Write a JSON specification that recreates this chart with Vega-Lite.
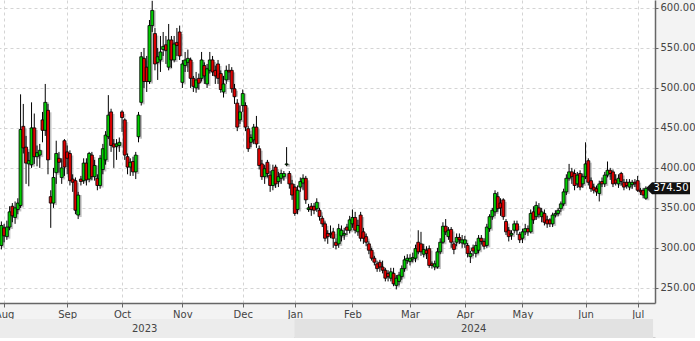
{
"$schema": "https://vega.github.io/schema/vega-lite/v6.json",
"padding": {"left": -6, "top": 0, "right": 0, "bottom": 0},
"background": "#f3f3f3",
"spacing": 0,
"config": {"view": {"stroke": null}, "font": "DejaVu Sans"},
"datasets": {
"ohlc": [
{"i":0,"o":303,"h":333,"l":298,"c":328},{"i":1,"o":325,"h":330,"l":307,"c":315},{"i":2,"o":314,"h":334,"l":310,"c":326},{"i":3,"o":326,"h":352,"l":322,"c":345},{"i":4,"o":352,"h":356,"l":332,"c":340},{"i":5,"o":338,"h":358,"l":330,"c":350},{"i":6,"o":348,"h":362,"l":342,"c":356},{"i":7,"o":353,"h":492,"l":350,"c":448},{"i":8,"o":452,"h":480,"l":418,"c":425},{"i":9,"o":426,"h":440,"l":380,"c":406},
{"i":10,"o":405,"h":420,"l":377,"c":409},{"i":11,"o":404,"h":482,"l":400,"c":450},{"i":12,"o":450,"h":468,"l":405,"c":414},{"i":13,"o":414,"h":428,"l":402,"c":419},{"i":14,"o":416,"h":430,"l":400,"c":422},{"i":15,"o":460,"h":470,"l":432,"c":447},{"i":16,"o":447,"h":505,"l":440,"c":482},{"i":17,"o":472,"h":480,"l":392,"c":410},{"i":18,"o":364,"h":372,"l":325,"c":356},{"i":19,"o":356,"h":400,"l":350,"c":388},
{"i":20,"o":394,"h":434,"l":380,"c":418},{"i":21,"o":412,"h":420,"l":394,"c":407},{"i":22,"o":388,"h":412,"l":380,"c":400},{"i":23,"o":434,"h":436,"l":390,"c":401},{"i":24,"o":420,"h":428,"l":392,"c":412},{"i":25,"o":418,"h":422,"l":378,"c":384},{"i":26,"o":386,"h":392,"l":370,"c":382},{"i":27,"o":384,"h":388,"l":342,"c":347},{"i":28,"o":341,"h":370,"l":336,"c":366},{"i":29,"o":386,"h":390,"l":378,"c":383},
{"i":30,"o":384,"h":412,"l":380,"c":406},{"i":31,"o":406,"h":412,"l":378,"c":385},{"i":32,"o":386,"h":420,"l":382,"c":418},{"i":33,"o":416,"h":420,"l":385,"c":389},{"i":34,"o":389,"h":410,"l":384,"c":403},{"i":35,"o":387,"h":392,"l":372,"c":378},{"i":36,"o":378,"h":416,"l":374,"c":412},{"i":37,"o":398,"h":430,"l":392,"c":424},{"i":38,"o":410,"h":446,"l":404,"c":441},{"i":39,"o":439,"h":491,"l":436,"c":466},
{"i":40,"o":470,"h":474,"l":420,"c":428},{"i":41,"o":430,"h":436,"l":400,"c":426},{"i":42,"o":427,"h":436,"l":410,"c":430},{"i":43,"o":428,"h":438,"l":420,"c":432},{"i":44,"o":470,"h":472,"l":445,"c":463},{"i":45,"o":460,"h":462,"l":410,"c":416},{"i":46,"o":414,"h":418,"l":392,"c":401},{"i":47,"o":401,"h":412,"l":390,"c":407},{"i":48,"o":408,"h":414,"l":390,"c":395},{"i":49,"o":395,"h":420,"l":386,"c":416},
{"i":50,"o":439,"h":470,"l":432,"c":466},{"i":51,"o":482,"h":545,"l":478,"c":539},{"i":52,"o":537,"h":550,"l":500,"c":508},{"i":53,"o":526,"h":540,"l":495,"c":508},{"i":54,"o":508,"h":585,"l":505,"c":578},{"i":55,"o":578,"h":609,"l":570,"c":597},{"i":56,"o":568,"h":575,"l":522,"c":530},{"i":57,"o":532,"h":550,"l":510,"c":539},{"i":58,"o":535,"h":565,"l":520,"c":545},{"i":59,"o":548,"h":570,"l":540,"c":552},
{"i":60,"o":554,"h":565,"l":530,"c":547},{"i":61,"o":526,"h":580,"l":522,"c":560},{"i":62,"o":560,"h":565,"l":525,"c":535},{"i":63,"o":535,"h":565,"l":532,"c":555},{"i":64,"o":557,"h":575,"l":540,"c":553},{"i":65,"o":570,"h":578,"l":535,"c":540},{"i":66,"o":507,"h":535,"l":500,"c":530},{"i":67,"o":528,"h":545,"l":520,"c":535},{"i":68,"o":532,"h":548,"l":520,"c":537},{"i":69,"o":535,"h":538,"l":500,"c":512},
{"i":70,"o":512,"h":515,"l":495,"c":502},{"i":71,"o":500,"h":520,"l":494,"c":510},{"i":72,"o":512,"h":518,"l":498,"c":506},{"i":73,"o":512,"h":545,"l":508,"c":535},{"i":74,"o":528,"h":532,"l":505,"c":515},{"i":75,"o":505,"h":530,"l":500,"c":524},{"i":76,"o":522,"h":545,"l":518,"c":535},{"i":77,"o":535,"h":540,"l":515,"c":520},{"i":78,"o":522,"h":528,"l":505,"c":515},{"i":79,"o":530,"h":535,"l":505,"c":512},
{"i":80,"o":518,"h":522,"l":494,"c":498},{"i":81,"o":495,"h":515,"l":488,"c":505},{"i":82,"o":510,"h":528,"l":505,"c":522},{"i":83,"o":522,"h":530,"l":510,"c":520},{"i":84,"o":522,"h":526,"l":494,"c":499},{"i":85,"o":499,"h":505,"l":480,"c":489},{"i":86,"o":481,"h":486,"l":446,"c":451},{"i":87,"o":460,"h":478,"l":455,"c":470},{"i":88,"o":478,"h":498,"l":470,"c":493},{"i":89,"o":478,"h":482,"l":446,"c":451},
{"i":90,"o":449,"h":452,"l":420,"c":424},{"i":91,"o":432,"h":442,"l":426,"c":438},{"i":92,"o":435,"h":455,"l":430,"c":451},{"i":93,"o":451,"h":465,"l":425,"c":430},{"i":94,"o":424,"h":428,"l":398,"c":403},{"i":95,"o":405,"h":410,"l":385,"c":389},{"i":96,"o":389,"h":404,"l":380,"c":399},{"i":97,"o":407,"h":410,"l":388,"c":393},{"i":98,"o":391,"h":396,"l":370,"c":378},{"i":99,"o":378,"h":404,"l":372,"c":397},
{"i":100,"o":401,"h":404,"l":375,"c":380},{"i":101,"o":383,"h":395,"l":376,"c":389},{"i":102,"o":387,"h":398,"l":380,"c":393},{"i":103,"o":389,"h":396,"l":384,"c":393},{"i":104,"o":404,"h":426,"l":402,"c":405},{"i":105,"o":393,"h":396,"l":374,"c":380},{"i":106,"o":380,"h":385,"l":360,"c":366},{"i":107,"o":376,"h":380,"l":340,"c":343},{"i":108,"o":348,"h":378,"l":342,"c":372},{"i":109,"o":376,"h":388,"l":370,"c":383},
{"i":110,"o":381,"h":392,"l":372,"c":387},{"i":111,"o":387,"h":390,"l":355,"c":360},{"i":112,"o":348,"h":355,"l":345,"c":350},{"i":113,"o":352,"h":356,"l":340,"c":348},{"i":114,"o":352,"h":356,"l":342,"c":347},{"i":115,"o":349,"h":362,"l":345,"c":357},{"i":116,"o":347,"h":350,"l":334,"c":339},{"i":117,"o":337,"h":340,"l":326,"c":330},{"i":118,"o":330,"h":333,"l":308,"c":312},{"i":119,"o":318,"h":322,"l":305,"c":314},
{"i":120,"o":317,"h":328,"l":312,"c":318},{"i":121,"o":320,"h":325,"l":300,"c":312},{"i":122,"o":307,"h":312,"l":298,"c":303},{"i":123,"o":305,"h":330,"l":300,"c":324},{"i":124,"o":315,"h":328,"l":308,"c":322},{"i":125,"o":316,"h":325,"l":310,"c":318},{"i":126,"o":326,"h":330,"l":316,"c":322},{"i":127,"o":322,"h":340,"l":318,"c":335},{"i":128,"o":330,"h":348,"l":325,"c":338},{"i":129,"o":338,"h":345,"l":318,"c":322},
{"i":130,"o":320,"h":335,"l":315,"c":328},{"i":131,"o":341,"h":345,"l":308,"c":312},{"i":132,"o":320,"h":325,"l":305,"c":312},{"i":133,"o":314,"h":318,"l":302,"c":307},{"i":134,"o":305,"h":308,"l":292,"c":297},{"i":135,"o":297,"h":300,"l":284,"c":287},{"i":136,"o":287,"h":290,"l":278,"c":282},{"i":137,"o":280,"h":283,"l":270,"c":274},{"i":138,"o":282,"h":285,"l":270,"c":276},{"i":139,"o":276,"h":284,"l":268,"c":272},
{"i":140,"o":272,"h":275,"l":258,"c":262},{"i":141,"o":268,"h":272,"l":258,"c":264},{"i":142,"o":262,"h":275,"l":258,"c":270},{"i":143,"o":268,"h":275,"l":252,"c":255},{"i":144,"o":253,"h":266,"l":248,"c":262},{"i":145,"o":258,"h":270,"l":253,"c":266},{"i":146,"o":264,"h":278,"l":260,"c":274},{"i":147,"o":274,"h":290,"l":270,"c":285},{"i":148,"o":284,"h":292,"l":280,"c":287},{"i":149,"o":283,"h":292,"l":278,"c":287},
{"i":150,"o":286,"h":294,"l":282,"c":288},{"i":151,"o":287,"h":304,"l":282,"c":299},{"i":152,"o":307,"h":322,"l":292,"c":295},{"i":153,"o":305,"h":320,"l":290,"c":295},{"i":154,"o":292,"h":305,"l":288,"c":298},{"i":155,"o":297,"h":302,"l":286,"c":293},{"i":156,"o":299,"h":303,"l":275,"c":278},{"i":157,"o":280,"h":283,"l":274,"c":278},{"i":158,"o":276,"h":284,"l":272,"c":280},{"i":159,"o":276,"h":300,"l":274,"c":295},
{"i":160,"o":295,"h":312,"l":292,"c":307},{"i":161,"o":307,"h":332,"l":305,"c":327},{"i":162,"o":327,"h":336,"l":316,"c":320},{"i":163,"o":314,"h":326,"l":310,"c":322},{"i":164,"o":323,"h":326,"l":300,"c":307},{"i":165,"o":305,"h":308,"l":292,"c":298},{"i":166,"o":307,"h":318,"l":302,"c":313},{"i":167,"o":313,"h":318,"l":305,"c":310},{"i":168,"o":306,"h":316,"l":300,"c":310},{"i":169,"o":305,"h":315,"l":300,"c":310},
{"i":170,"o":303,"h":306,"l":288,"c":293},{"i":171,"o":289,"h":296,"l":281,"c":293},{"i":172,"o":300,"h":304,"l":290,"c":296},{"i":173,"o":293,"h":308,"l":288,"c":303},{"i":174,"o":297,"h":316,"l":293,"c":312},{"i":175,"o":312,"h":316,"l":304,"c":308},{"i":176,"o":308,"h":312,"l":298,"c":302},{"i":177,"o":303,"h":330,"l":300,"c":326},{"i":178,"o":324,"h":342,"l":320,"c":339},{"i":179,"o":339,"h":350,"l":335,"c":347},
{"i":180,"o":345,"h":372,"l":340,"c":368},{"i":181,"o":364,"h":370,"l":345,"c":349},{"i":182,"o":356,"h":362,"l":340,"c":350},{"i":183,"o":360,"h":362,"l":335,"c":339},{"i":184,"o":333,"h":336,"l":316,"c":320},{"i":185,"o":322,"h":326,"l":308,"c":314},{"i":186,"o":316,"h":322,"l":310,"c":318},{"i":187,"o":322,"h":334,"l":318,"c":330},{"i":188,"o":330,"h":334,"l":316,"c":322},{"i":189,"o":317,"h":320,"l":306,"c":310},
{"i":190,"o":312,"h":324,"l":306,"c":320},{"i":191,"o":320,"h":330,"l":316,"c":324},{"i":192,"o":324,"h":328,"l":315,"c":320},{"i":193,"o":320,"h":348,"l":318,"c":343},{"i":194,"o":345,"h":352,"l":330,"c":335},{"i":195,"o":339,"h":358,"l":335,"c":353},{"i":196,"o":350,"h":356,"l":338,"c":342},{"i":197,"o":339,"h":350,"l":332,"c":345},{"i":198,"o":343,"h":348,"l":328,"c":332},{"i":199,"o":335,"h":340,"l":325,"c":330},
{"i":200,"o":335,"h":337,"l":326,"c":330},{"i":201,"o":330,"h":344,"l":326,"c":341},{"i":202,"o":341,"h":347,"l":338,"c":343},{"i":203,"o":343,"h":350,"l":340,"c":347},{"i":204,"o":349,"h":358,"l":345,"c":355},{"i":205,"o":355,"h":374,"l":352,"c":370},{"i":206,"o":370,"h":392,"l":366,"c":387},{"i":207,"o":387,"h":405,"l":384,"c":395},{"i":208,"o":395,"h":400,"l":380,"c":389},{"i":209,"o":393,"h":398,"l":372,"c":378},
{"i":210,"o":380,"h":395,"l":375,"c":391},{"i":211,"o":393,"h":397,"l":372,"c":376},{"i":212,"o":380,"h":393,"l":375,"c":389},{"i":213,"o":389,"h":432,"l":386,"c":405},{"i":214,"o":409,"h":412,"l":378,"c":382},{"i":215,"o":384,"h":388,"l":370,"c":374},{"i":216,"o":376,"h":380,"l":368,"c":372},{"i":217,"o":374,"h":378,"l":365,"c":370},{"i":218,"o":368,"h":384,"l":358,"c":380},{"i":219,"o":383,"h":388,"l":376,"c":380},
{"i":220,"o":380,"h":395,"l":376,"c":391},{"i":221,"o":391,"h":408,"l":388,"c":397},{"i":222,"o":397,"h":400,"l":385,"c":393},{"i":223,"o":395,"h":398,"l":376,"c":380},{"i":224,"o":385,"h":392,"l":378,"c":381},{"i":225,"o":380,"h":392,"l":375,"c":387},{"i":226,"o":393,"h":395,"l":378,"c":383},{"i":227,"o":382,"h":386,"l":372,"c":376},{"i":228,"o":382,"h":386,"l":374,"c":378},{"i":229,"o":376,"h":386,"l":372,"c":382},
{"i":230,"o":379,"h":385,"l":374,"c":382},{"i":231,"o":382,"h":386,"l":376,"c":380},{"i":232,"o":384,"h":390,"l":370,"c":372},{"i":233,"o":372,"h":375,"l":366,"c":370},{"i":234,"o":372,"h":375,"l":362,"c":366},{"i":235,"o":362,"h":377,"l":360,"c":374.5}
],
"years": [
{"year":"2023","start":-0.5,"end":107,"mid":53.25},
{"year":"2024","start":107,"end":235.8,"mid":171.4}
],
"tag": [{"v":374.5,"label":"374.50"}]
},
"vconcat": [
{
"width": 660,
"height": 303,
"view": {"fill": "white", "stroke": null},
"layer": [
{
"data": {"name": "ohlc"},
"mark": {"type": "bar", "size": 3, "color": "#999999", "opacity": 0.6},
"encoding": {
"x": {"field": "i", "type": "quantitative", "scale": {"domain": [-0.5, 236.5], "nice": false, "zero": false},
"axis": {"title": null, "values": [1,24,44,66,88,107,128,149,169,190,213,232],
"labelExpr": "['Aug','Sep','Oct','Nov','Dec','Jan','Feb','Mar','Apr','May','Jun','Jul'][indexof([1,24,44,66,88,107,128,149,169,190,213,232], datum.value)]",
"grid": true, "gridDash": [3,3], "gridColor": "#d4d4d4", "domainColor": "#666", "domainWidth": 1.5, "tickColor": "#666", "tickSize": 4, "labelColor": "#444", "labelFontSize": 10, "labelPadding": 2, "labelFlush": false, "labelOverlap": false}},
"xOffset": {"value": 2},
"yOffset": {"value": 2},
"y": {"field": "o", "type": "quantitative", "scale": {"domain": [231, 610], "nice": false, "zero": false},
"axis": {"orient": "right", "title": null, "values": [250,300,350,400,450,500,550,600], "format": ".2f",
"grid": true, "gridDash": [3,3], "gridColor": "#d4d4d4", "domainColor": "#666", "domainWidth": 1.5, "tickColor": "#666", "tickSize": 3, "labelColor": "#444", "labelFontSize": 10, "labelPadding": 2}},
"y2": {"field": "c"}
}
},
{
"data": {"name": "ohlc"},
"mark": {"type": "rule", "color": "black", "strokeWidth": 1},
"encoding": {
"x": {"field": "i", "type": "quantitative"},
"y": {"field": "l", "type": "quantitative"},
"y2": {"field": "h"}
}
},
{
"data": {"name": "ohlc"},
"mark": {"type": "bar", "size": 3, "stroke": "black", "strokeWidth": 0.8},
"encoding": {
"x": {"field": "i", "type": "quantitative"},
"y": {"field": "o", "type": "quantitative"},
"y2": {"field": "c"},
"fill": {"condition": {"test": "datum.c >= datum.o", "value": "#00cc00"}, "value": "#dd0000"}
}
},
{
"data": {"name": "tag"},
"mark": {"type": "point", "filled": true, "opacity": 1, "color": "#111", "size": 400, "shape": "M-0.4,0L0.2,-0.6L4,-0.6L4,0.6L0.2,0.6Z"},
"encoding": {
"x": {"datum": 236.5, "type": "quantitative"},
"y": {"field": "v", "type": "quantitative"}
}
},
{
"data": {"name": "tag"},
"mark": {"type": "text", "color": "white", "fontSize": 10, "dx": 21, "baseline": "middle", "align": "center"},
"encoding": {
"x": {"datum": 236.5, "type": "quantitative"},
"y": {"field": "v", "type": "quantitative"},
"text": {"field": "label"}
}
}
]
},
{
"width": 660,
"height": 19,
"data": {"name": "years"},
"layer": [
{
"mark": {"type": "rect"},
"encoding": {
"x": {"field": "start", "type": "quantitative", "scale": {"domain": [-0.5, 236.5], "nice": false, "zero": false},
"axis": {"title": null, "labels": false, "ticks": false, "grid": false, "domainColor": "#666", "domainWidth": 1.5}},
"x2": {"field": "end"},
"fill": {"field": "year", "type": "nominal", "scale": {"domain": ["2023","2024"], "range": ["#ececec","#e2e2e2"]}, "legend": null}
}
},
{
"mark": {"type": "text", "fontSize": 10, "color": "#444"},
"encoding": {
"x": {"field": "mid", "type": "quantitative"},
"text": {"field": "year"}
}
}
]
}
]
}
